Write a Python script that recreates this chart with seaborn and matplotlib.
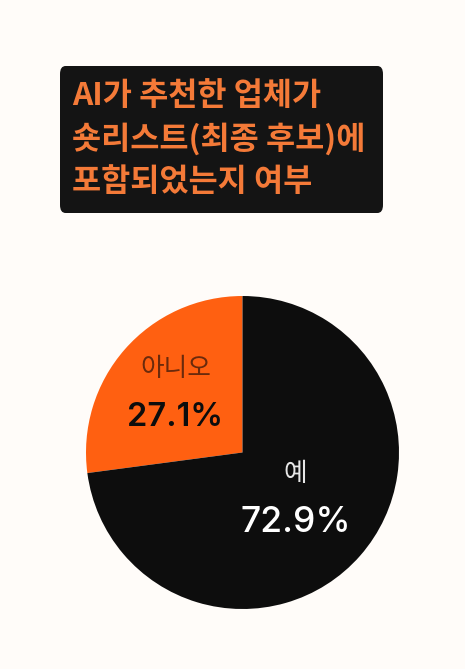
import numpy as np
import matplotlib.pyplot as plt
import seaborn as sns
from matplotlib.patches import FancyBboxPatch

# data
categories = ["아니오", "예"]
shares = [27.1, 72.9]
title_lines = ["AI가 추천한 업체가", "숏리스트(최종 후보)에", "포함되었는지 여부"]

bg = "#FFFCF9"
wedge_colors = ["#FF6011", "#0D0D0D"]
name_colors = ["#6A2A0C", "#E6E6E6"]
pct_colors = ["#0D0D0D", "#FFFFFF"]
pct_weights = ["semibold", "medium"]
pct_sizes = [23.5, 25.5]
label_radius = [0.57, 0.45]

sns.set_theme(style="white")
plt.rcParams["font.family"] = ["Noto Sans CJK KR", "DejaVu Sans"]

W, H = 465, 669
fig = plt.figure(figsize=(W / 100, H / 100), dpi=100, facecolor=bg)

# title box
box = FancyBboxPatch((60 / W, 1 - 213 / H), 323 / W, 147 / H,
                     boxstyle="round,pad=0,rounding_size=0.012",
                     transform=fig.transFigure, facecolor="#141414",
                     edgecolor="none")
fig.patches.append(box)
for i, line in enumerate(title_lines):
    fig.text(72 / W, 1 - (96 + 43 * i) / H, line, color="#F47A38",
             fontsize=22.8, fontweight="bold", ha="left", va="center")

# pie
ax = fig.add_axes([86 / W, 60 / H, 313 / W, 313 / H])
ax.set_facecolor(bg)
wedges, _ = ax.pie(shares, colors=wedge_colors, startangle=90,
                   counterclock=True, radius=1,
                   wedgeprops=dict(linewidth=0))
ax.set_xlim(-1, 1)
ax.set_ylim(-1, 1)
ax.set_aspect("equal")
ax.axis("off")

for w, name, val, nc, pc, pw, ps, r in zip(wedges, categories, shares,
                                            name_colors, pct_colors,
                                            pct_weights, pct_sizes,
                                            label_radius):
    ang = np.deg2rad((w.theta1 + w.theta2) / 2)
    x, y = r * np.cos(ang), r * np.sin(ang)
    ax.text(x, y + 0.16, name, color=nc, fontsize=18.5, ha="center",
            va="center")
    ax.text(x, y - 0.15, f"{val:.1f}%", color=pc, fontsize=ps,
            fontweight=pw, ha="center", va="center",
            family=["Inter", "DejaVu Sans"])

fig.savefig("out.png", dpi=100, facecolor=bg)
